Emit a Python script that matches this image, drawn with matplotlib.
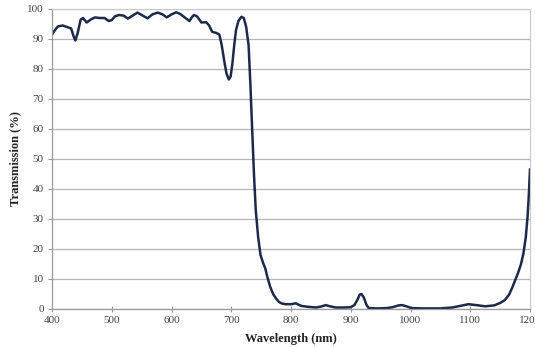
import matplotlib
matplotlib.use("Agg")
import matplotlib.pyplot as plt

wavelength = [400, 405, 410, 418, 425, 432, 436, 439, 443, 448, 452, 458, 465, 472, 480, 488, 495, 500,
              505, 512, 520, 527, 535, 543, 550, 560, 568, 577, 585, 592, 600, 608, 615, 622, 630, 635,
              638, 643, 650, 658, 663, 668, 675, 680, 684, 688, 692, 696, 699, 702, 705, 708, 712, 717,
              721, 725, 729, 732, 735, 738, 741, 745, 749, 753, 757, 760, 765, 770, 775, 780, 785, 792,
              800, 808, 813, 818, 830, 842, 850, 858, 865, 875, 890, 900, 906, 911, 915, 918, 922, 926,
              930, 945, 960, 970, 980, 986, 993, 1002, 1020, 1050, 1070, 1085, 1097, 1110, 1125, 1140,
              1150, 1158, 1165, 1170, 1175, 1180, 1185, 1189, 1193, 1196, 1198, 1200]
transmission = [91.5, 93, 94.2, 94.5, 94, 93.5, 91, 89.5, 92, 96.5, 97, 95.5, 96.5, 97.2, 97, 97, 96, 96.3,
                97.5, 98, 97.8, 96.8, 97.8, 98.8, 98, 96.9, 98.2, 98.8, 98.2, 97.2, 98.2, 98.9, 98.3, 97.2,
                96, 97.5, 98, 97.5, 95.5, 95.6, 94.5, 92.4, 92, 91.5, 88, 83, 78.5, 76.5, 77.5, 82, 88, 93,
                96, 97.4, 97, 94, 88, 75, 60, 45, 33, 24, 18, 15.5, 13.5, 11, 7.5, 5, 3.5, 2.3, 1.8, 1.6,
                1.6, 1.9, 1.4, 1.0, 0.7, 0.5, 0.8, 1.3, 0.9, 0.5, 0.5, 0.6, 1.3, 3, 4.8, 5, 3.8, 1.5,
                0.3, 0.2, 0.3, 0.6, 1.2, 1.3, 0.9, 0.3, 0.2, 0.2, 0.5, 1.1, 1.6, 1.3, 0.9, 1.2,
                2.0, 3.0, 4.8, 7, 9.5, 12, 15, 18.5, 24, 31, 38, 46.5]
x_ticks = [400, 500, 600, 700, 800, 900, 1000, 1100, 1200]
y_ticks = [0, 10, 20, 30, 40, 50, 60, 70, 80, 90, 100]

plt.rcParams['font.family'] = ['Liberation Serif', 'DejaVu Serif']

fig = plt.figure(figsize=(5.35, 3.47), dpi=100)
ax = fig.add_axes([52/535, 1 - 309/347, 478/535, 300/347])

ax.plot(wavelength, transmission, color='#1c2a4a', linewidth=1.8, solid_joinstyle='round')

ax.set_xlim(400, 1200)
ax.set_ylim(0, 100)
ax.set_xticks(x_ticks)
ax.set_yticks(y_ticks)
ax.grid(axis='y', color='#b5b5b5', linewidth=0.9)
ax.set_axisbelow(True)

for s in ['top', 'right']:
    ax.spines[s].set_color('#c8c8c8')
    ax.spines[s].set_linewidth(0.8)
for s in ['left', 'bottom']:
    ax.spines[s].set_color('#9a9a9a')
    ax.spines[s].set_linewidth(0.9)

ax.tick_params(axis='both', labelsize=8, colors='#9a9a9a', labelcolor='#444444', length=3, width=0.8)
ax.tick_params(axis='x', direction='inout', length=4, pad=3)
ax.tick_params(axis='y', direction='out', length=3, pad=3)

ax.set_xlabel('Wavelength (nm)', fontsize=9, fontweight='bold', color='#222222', labelpad=6)
ax.set_ylabel('Transmission (%)', fontsize=9, fontweight='bold', color='#222222', labelpad=4)

fig.savefig('out.png', dpi=100)
